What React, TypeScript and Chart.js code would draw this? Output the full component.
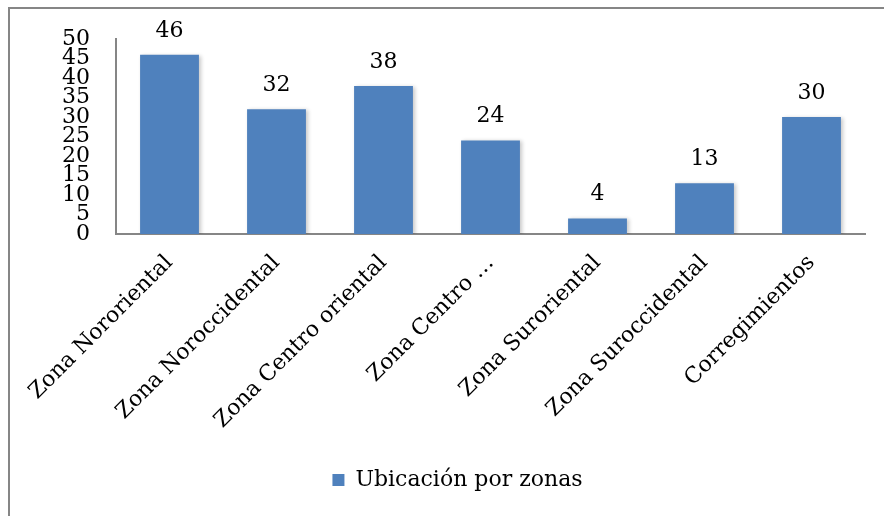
import React, { useEffect, useRef } from "react";
import { Chart, registerables } from "chart.js";

Chart.register(...registerables);

const categories = [
  "Zona Nororiental",
  "Zona Noroccidental",
  "Zona Centro oriental",
  "Zona Centro …",
  "Zona Suroriental",
  "Zona Suroccidental",
  "Corregimientos",
];
const values = [46, 32, 38, 24, 4, 13, 30];
const seriesName = "Ubicación por zonas";
const yMin = 0;
const yMax = 50;
const yStep = 5;

const FONT = "'DejaVu Serif', serif";

const valueLabels = {
  id: "valueLabels",
  afterDatasetsDraw(chart: any) {
    const ctx = chart.ctx;
    const meta = chart.getDatasetMeta(0);
    ctx.save();
    ctx.font = `22px ${FONT}`;
    ctx.fillStyle = "#000";
    ctx.textAlign = "center";
    ctx.textBaseline = "alphabetic";
    meta.data.forEach((el: any, i: number) => {
      ctx.fillText(String(chart.data.datasets[0].data[i]), el.x, el.y - 18);
    });
    ctx.restore();
  },
};

const barShadow = {
  id: "barShadow",
  beforeDatasetsDraw(chart: any) {
    const ctx = chart.ctx;
    ctx.save();
    ctx.shadowColor = "rgba(0,0,0,0.22)";
    ctx.shadowBlur = 4;
    ctx.shadowOffsetX = 2;
    ctx.shadowOffsetY = 1;
  },
  afterDatasetsDraw(chart: any) {
    chart.ctx.restore();
  },
};

export default function App() {
  const ref = useRef<HTMLCanvasElement>(null);
  useEffect(() => {
    if (!ref.current) return;
    const chart = new Chart(ref.current, {
      type: "bar",
      data: {
        labels: categories,
        datasets: [
          {
            label: seriesName,
            data: values,
            backgroundColor: "#4F81BD",
            borderWidth: 0,
            barPercentage: 0.55,
            categoryPercentage: 1,
          },
        ],
      },
      options: {
        responsive: false,
        animation: false,
        layout: { padding: { left: 50, right: 19, top: 37, bottom: 15 } },
        scales: {
          x: {
            grid: { display: false, drawTicks: false },
            border: { display: true, color: "#868686", width: 2 },
            ticks: {
              color: "#000",
              font: { family: FONT, size: 22 },
              minRotation: 45,
              maxRotation: 45,
              autoSkip: false,
              padding: 16,
            },
            afterFit(scale: any) {
              scale.height = 225;
            },
          },
          y: {
            min: yMin,
            max: yMax,
            grid: { display: false, drawTicks: false },
            border: { display: true, color: "#868686", width: 2 },
            ticks: {
              stepSize: yStep,
              autoSkip: false,
              color: "#000",
              font: { family: FONT, size: 22 },
              padding: 26,
            },
            afterFit(scale: any) {
              scale.width = 66;
            },
          },
        },
        plugins: {
          legend: {
            position: "bottom",
            labels: {
              color: "#000",
              font: { family: FONT, size: 22 },
              boxWidth: 12,
              boxHeight: 12,
            },
          },
          tooltip: { enabled: false },
        },
      },
      plugins: [barShadow, valueLabels],
    });
    return () => chart.destroy();
  }, []);

  return (
    <div style={{ position: "fixed", inset: 0, overflow: "hidden", background: "#fff" }}>
      <div
        style={{
          position: "absolute",
          left: 8,
          top: 7,
          width: 2000,
          height: 2000,
          borderLeft: "2px solid #868686",
          borderTop: "2px solid #868686",
        }}
      />
      <canvas
        ref={ref}
        width={884}
        height={516}
        style={{ position: "absolute", left: 0, top: 0, width: 884, height: 516 }}
      />
    </div>
  );
}
